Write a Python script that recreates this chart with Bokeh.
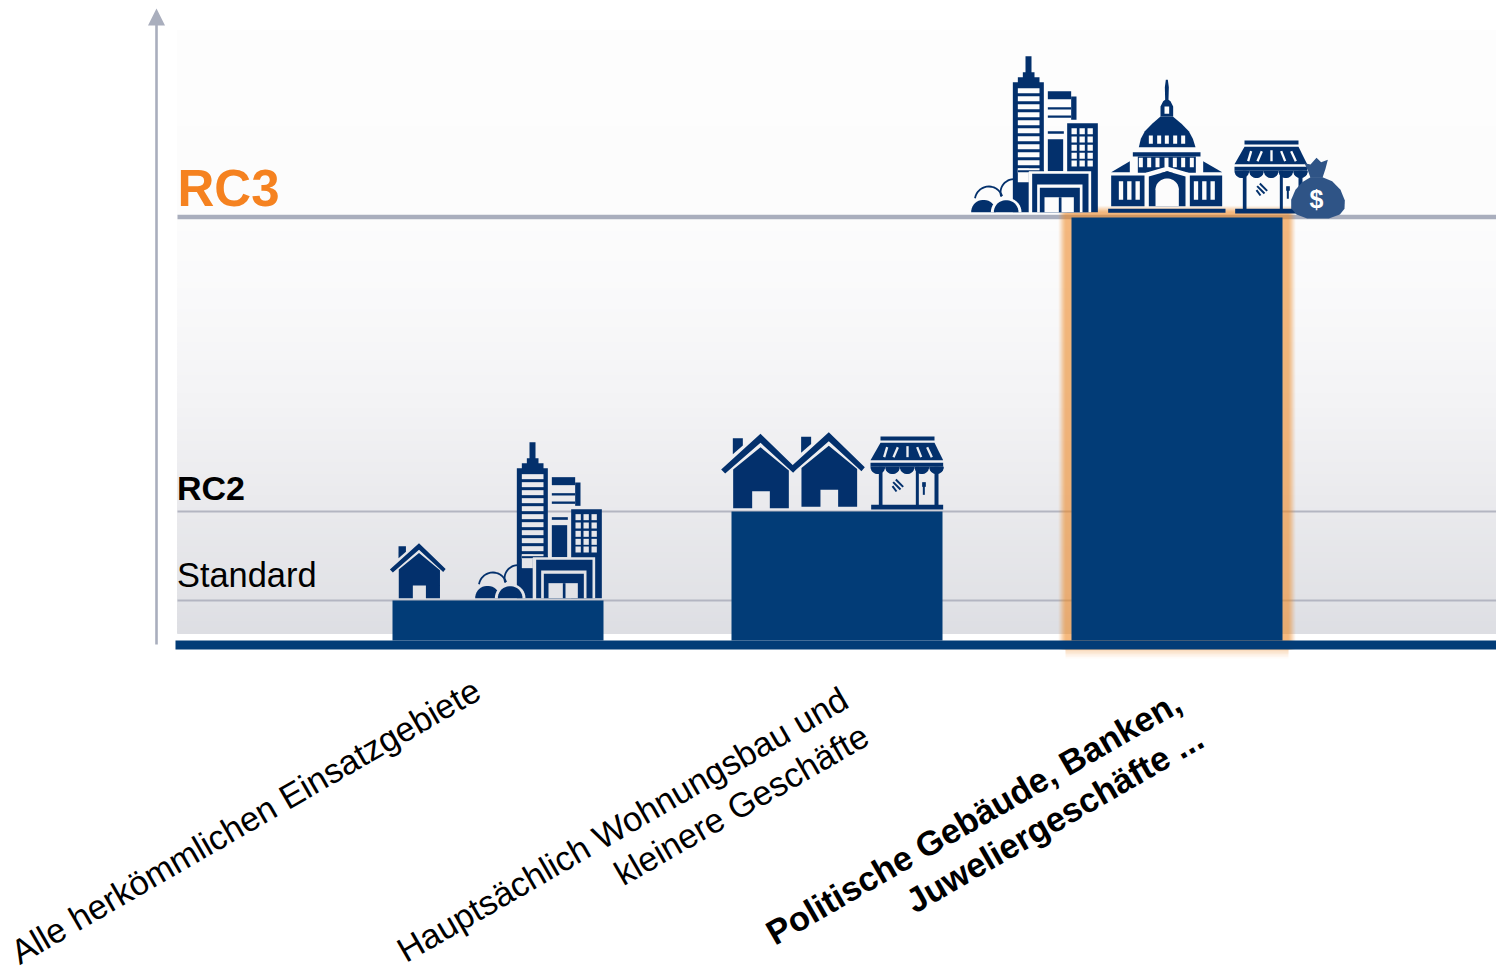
import numpy as np
from bokeh.plotting import figure
from bokeh.models import Range1d
from bokeh.core.properties import value
from bokeh.embed import file_html
from bokeh.resources import INLINE

# ---- chart values (height above the base line)
categories = ["Alle herkömmlichen Einsatzgebiete", "Hauptsächlich Wohnungsbau und kleinere Geschäfte",
              "Politische Gebäude, Banken, Juweliergeschäfte ..."]
bar_x = [497.5, 836.5, 1176.5]
bar_values = [40, 129, 423]
level_names = ["Standard", "RC2", "RC3"]
level_values = [40, 129, 423]

NAVY = "#023c77"
ICON = "#03306c"
GREY = "#a9aebd"
FONT = value("Liberation Sans")
BASE = 640.0


def Y(py):
    return BASE - np.asarray(py, dtype=float)


p = figure(width=1496, height=967, output_backend="svg", toolbar_location=None,
           x_range=Range1d(0, 1496), y_range=Range1d(float(Y(967)), float(Y(0))),
           min_border=0, outline_line_color=None, border_fill_color="white",
           background_fill_color="white")
p.axis.visible = False
p.grid.visible = False

# ---- background gradient
stops_y = [30, 217, 300, 400, 500, 600, 632]
stops_v = [(253, 253, 253), (252, 252, 252), (249, 249, 250), (243, 243, 245),
           (234, 234, 237), (225, 226, 230), (221, 222, 227)]


def bg(py):
    return "#%02x%02x%02x" % tuple(int(round(np.interp(py, stops_y, [s[i] for s in stops_v]))) for i in range(3))


edges = np.arange(30, 633.5, 3.0)
cols = [bg(e) for e in edges[:-1]]
p.quad(left=177, right=1496, top=Y(edges[:-1]), bottom=Y(edges[1:]), fill_color=cols, line_color=cols)

# ---- level lines
p.segment(x0=[177, 177], x1=[1496, 1496], y0=level_values[:2], y1=level_values[:2], line_color="#b3b5c1", line_width=2)
p.segment(x0=[177], x1=[1496], y0=[level_values[2] + 0.5], y1=[level_values[2] + 0.5], line_color=GREY, line_width=4.5)

# ---- arrow axis
p.line(x=[156, 156], y=[Y(644), Y(22)], line_color=GREY, line_width=2.6)
p.patch(x=[147.5, 164.5, 156], y=[Y(25), Y(25), Y(8)], fill_color=GREY, line_color=None)

# ---- glow of the third bar
half = 211 / 2
for off, a in zip([13, 12, 11, 10, 9, 8, 7, 6], [.06, .08, .1, .12, .13, .13, .12, .1]):
    p.quad(left=bar_x[2] - half - off, right=bar_x[2] + half + off, top=bar_values[2] + off * 0.9,
           bottom=-9, fill_color="#f28c28", fill_alpha=a, line_color=None)
for d, a in zip([9, 7.5, 6, 4.5, 3, 1.5], [.04, .05, .06, .07, .08, .09]):
    p.quad(left=bar_x[2] - half - 6, right=bar_x[2] + half + 6, top=-9, bottom=-9 - d,
           fill_color="#f59a45", fill_alpha=a, line_color=None)

# ---- bars and base line
p.vbar(x=bar_x, top=bar_values, bottom=0, width=211, fill_color=NAVY, line_color=None)
p.quad(left=175, right=1496, top=0, bottom=-9, fill_color=NAVY, line_color=None)

# ---- icon drawing helpers
xs, ys, fc = [], [], []
lx, ly = [], []


class Place:
    def __init__(self, ox, oy, k=1 / 3):
        self.ox, self.oy, self.k = ox, oy, k

    def poly(self, pts, col=None):
        a = np.array(pts, dtype=float)
        px = self.ox + a[:, 0] * self.k
        py = self.oy + a[:, 1] * self.k
        xs.append(px.tolist())
        ys.append(Y(py).tolist())
        fc.append(bg(py.mean()) if col is None else col)

    def rect(self, x0, y0, x1, y1, col=None):
        self.poly([(x0, y0), (x1, y0), (x1, y1), (x0, y1)], col)

    def stroke(self, a, b, w, col=None):
        a, b = np.array(a, float), np.array(b, float)
        d = b - a
        n = np.array([-d[1], d[0]]) / np.hypot(*d) * w / 2
        self.poly([a + n, b + n, b - n, a - n], col)

    def dome(self, cx, cy, rx, ry, col=None):
        t = np.linspace(np.pi, 0, 20)
        self.poly(list(zip(cx + rx * np.cos(t), cy - ry * np.sin(t))), col)

    def arc(self, pts):
        a = np.array(pts, dtype=float)
        lx.append((self.ox + a[:, 0] * self.k).tolist())
        ly.append(Y(self.oy + a[:, 1] * self.k).tolist())


def city(P):
    P.poly([(195, 47), (213, 47), (213, 95), (222, 95), (222, 110), (237, 110), (237, 125), (250, 125), (250, 400),
            (205, 400), (205, 515), (157, 515), (157, 125), (172, 125), (172, 110), (187, 110), (187, 95), (195, 95)], ICON)
    for y in range(143, 385, 24):
        P.rect(172, y, 237, y + 15)
    P.rect(172, 384, 205, 425)
    P.stroke((172, 392), (250, 392), 6, ICON)
    # middle building
    P.rect(262, 152, 332, 176, ICON)
    P.rect(332, 168, 348, 238, ICON)
    for y in (200, 225):
        P.rect(262, y, 332, y + 7, ICON)
    P.rect(262, 272, 310, 280, ICON)
    P.rect(262, 296, 308, 392, ICON)
    # right building
    P.rect(320, 248, 412, 515, ICON)
    for y in (263, 288, 313, 337, 360):
        for x in (333, 357, 381):
            P.rect(x, y, x + 16, y + 18)
    # low building
    P.rect(205, 392, 392, 515)
    P.rect(215, 400, 384, 515, ICON)
    P.rect(230, 432, 366, 515)
    P.rect(238, 442, 358, 515, ICON)
    P.rect(252, 470, 340, 515)
    P.rect(295, 470, 303, 515, ICON)
    # trees
    P.dome(69, 515, 37, 37, ICON)
    P.dome(137, 515, 46, 44)
    P.dome(137, 515, 37, 36, ICON)
    t = np.linspace(np.pi * 1.05, np.pi * 1.9, 16)
    P.arc(list(zip(85 + 42 * np.cos(t), 480 + 42 * np.sin(t))))
    t = np.linspace(np.pi * 0.9, np.pi * 1.5, 12)
    P.arc(list(zip(160 + 40 * np.cos(t), 456 + 40 * np.sin(t))))


def capitol(P):
    P.rect(443, 505, 795, 517, ICON)
    P.poly([(616, 118), (622, 118), (625, 140), (624, 178), (630, 182), (638, 198), (638, 228), (600, 228), (600, 198),
            (608, 182), (614, 178), (613, 140)], ICON)
    P.rect(612, 198, 626, 220)
    P.poly([(535, 320), (541, 295), (553, 272), (575, 250), (600, 228), (637, 228), (663, 250), (685, 272), (697, 295), (705, 320)], ICON)
    for x in (565, 590, 613, 638, 662):
        P.rect(x, 285, x + 12, 310)
    P.rect(517, 335, 720, 348, ICON)
    P.rect(532, 348, 706, 397, ICON)
    for x in (535, 560, 585, 612, 637, 662, 688):
        P.rect(x, 352, x + 12, 380)
    P.poly([(452, 395), (508, 362), (508, 395)], ICON)
    P.poly([(728, 362), (785, 395), (728, 395)], ICON)
    for x0, x1, wins in ((452, 552, (475, 500, 525)), (688, 785, (700, 725, 750))):
        P.rect(x0, 405, x1, 497, ICON)
        for x in wins:
            P.rect(x, 422, x + 13, 478)
    P.poly([(556, 397), (620, 378), (684, 397), (684, 410), (620, 392), (556, 410)])
    P.poly([(565, 408), (620, 392), (675, 408), (675, 497), (565, 497)], ICON)
    P.rect(585, 445, 655, 497)
    P.dome(620, 447, 35, 33)


def shop(P):
    P.rect(510, 33, 672, 45, ICON)
    P.poly([(510, 52), (672, 52), (698, 104), (480, 104)], ICON)
    for a, b in (((530, 65), (521, 95)), ((562, 65), (549, 95)), ((591, 62), (591, 95)), ((620, 65), (632, 95)),
                 ((650, 65), (664, 95))):
        P.stroke(a, b, 7)
    P.rect(480, 112, 698, 124, ICON)
    for cx in (502, 546, 590, 634, 678):
        t = np.linspace(0, np.pi, 14)
        P.poly(list(zip(cx + 22 * np.cos(t), 124 + 22 * np.sin(t))), ICON)
    for x0, x1 in ((505, 516), (616, 625), (672, 684)):
        P.rect(x0, 124, x1, 240, ICON)
    P.rect(482, 238, 698, 252, ICON)
    for a, b in (((548, 170), (570, 192)), ((556, 162), (578, 184)), ((546, 182), (558, 198))):
        P.stroke(a, b, 6, ICON)
    P.stroke((640, 172), (640, 208), 6, ICON)
    P.rect(635, 170, 646, 184, ICON)


def house(P):
    P.poly([(67, 38), (97, 38), (97, 60), (67, 86)], ICON)
    P.poly([(32, 132), (150, 25), (258, 130), (248, 142), (150, 52), (44, 144)], ICON)
    P.poly([(68, 132), (150, 65), (235, 135), (235, 248), (178, 248), (178, 197), (125, 197), (125, 248), (68, 248)], ICON)


city(Place(960, 40))
city(Place(464, 426))
capitol(Place(960, 40))
shop(Place(710, 425))
shop(Place(1074, 129))
house(Place(710, 425))
house(Place(778.3, 423.5))
house(Place(381.5, 536.5, 0.2467))

# money bag
B = Place(960, 40)
B.poly([(1032, 368), (1050, 372), (1068, 352), (1082, 365), (1102, 358), (1095, 385), (1086, 412), (1050, 412), (1042, 390)], "#2f5486")
B.poly([(1050, 410), (1086, 410), (1115, 422), (1140, 448), (1153, 480), (1152, 505), (1138, 522), (1105, 534),
        (1040, 534), (1008, 522), (992, 503), (992, 478), (1005, 448), (1025, 425)], "#2f5486")

p.patches(xs=xs, ys=ys, fill_color=fc, line_color=None)
p.multi_line(xs=lx, ys=ly, line_color=ICON, line_width=1.8)
p.text(x=[1316], y=[Y(198)], text=["$"], text_color="white", text_font=FONT, text_font_style="bold",
       text_font_size="25px", text_align="center", text_baseline="middle")

# ---- level labels
p.text(x=[177], y=[Y(187.5)], text=[level_names[2]], text_color="#f58220", text_font=FONT, text_font_style="bold",
       text_font_size="51px", text_baseline="middle")
p.text(x=[176.5], y=[Y(487.5)], text=[level_names[1]], text_color="#000000", text_font=FONT, text_font_style="bold",
       text_font_size="34px", text_baseline="middle")
p.text(x=[176.5], y=[Y(574.5)], text=[level_names[0]], text_color="#000000", text_font=FONT,
       text_font_size="34.4px", text_baseline="middle")

# ---- rotated category labels
rot = np.deg2rad(30)
label_lines = ["Alle herkömmlichen Einsatzgebiete", "Hauptsächlich Wohnungsbau und", "kleinere Geschäfte",
               "Politische Gebäude, Banken,", "Juweliergeschäfte ..."]
label_x = [245, 622, 741, 973, 1054]
label_py = [820.5, 824, 804, 817, 819]
label_bold = ["normal", "normal", "normal", "bold", "bold"]
for t_, x_, y_, b_ in zip(label_lines, label_x, label_py, label_bold):
    p.text(x=[x_], y=[Y(y_)], text=[t_], angle=rot, text_color="#000000", text_font=FONT, text_font_style=b_,
           text_font_size="34.4px", text_align="center", text_baseline="middle")

open("out.html", "w").write(file_html(p, INLINE))
